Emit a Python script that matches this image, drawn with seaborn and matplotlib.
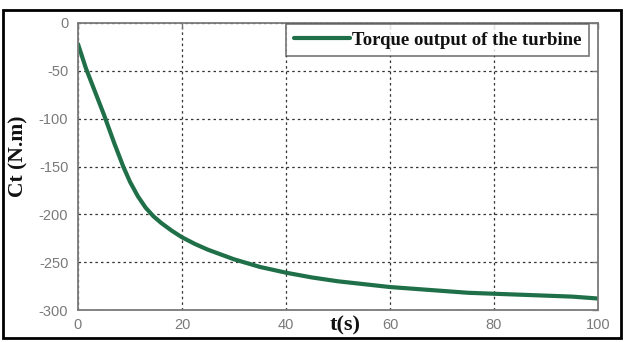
import numpy as np
import pandas as pd
import matplotlib
matplotlib.use("Agg")
import matplotlib.pyplot as plt
import seaborn as sns
from matplotlib.patches import Rectangle

# Data
time_s = [0, 1.5, 3, 5, 7, 8.7, 10, 11.5, 13, 14.5, 16, 18, 20, 22.5, 25, 30, 35, 40,
          45, 50, 55, 60, 65, 70, 75, 80, 85, 90, 95, 100]
torque = [-22, -47, -68, -96, -126, -150, -166, -181, -193, -202, -209, -217, -224, -231,
          -237, -247, -255, -261, -266, -270, -273, -276, -278, -280, -282, -283, -284,
          -285, -286, -288]
series_name = "Torque output of the turbine"
x_ticks = [0, 20, 40, 60, 80, 100]
y_ticks = [0, -50, -100, -150, -200, -250, -300]

df = pd.DataFrame({"t": time_s, "Ct": torque, "series": series_name})

sns.set_style("white")
plt.rcParams['font.family'] = ['Liberation Sans', 'DejaVu Sans']
plt.rcParams['axes.unicode_minus'] = False

W, H = 625, 342
fig = plt.figure(figsize=(W / 100, H / 100), dpi=100)
ax = fig.add_axes([78 / W, 1 - 310 / H, (598 - 78) / W, (310 - 23) / H])

sns.lineplot(data=df, x="t", y="Ct", hue="series", palette=["#1f7048"], linewidth=3.0,
             ax=ax, legend=True)

ax.set_xlim(0, 100)
ax.set_ylim(-300, 0)
ax.set_xticks(x_ticks)
ax.set_yticks(y_ticks)
ax.tick_params(direction="in", length=4, width=1, colors="#777777", labelsize=10.5,
               top=True, right=True, labelcolor="#7a7a7a")
ax.tick_params(axis="y", pad=7)
ax.tick_params(axis="x", pad=6)
for s in ax.spines.values():
    s.set_color("#7a7a7a")
    s.set_linewidth(1.3)
ax.grid(True, color="#333333", linestyle=(0, (2, 2.5)), linewidth=0.9)
ax.set_xlabel("")
ax.set_ylabel("")

leg = ax.legend(loc="upper right", bbox_to_anchor=(589 / W, 1 - 24 / H),
                bbox_transform=fig.transFigure, frameon=True, fancybox=False,
                borderpad=0.4, handlelength=3.0, handletextpad=0.1, borderaxespad=0,
                prop={"family": "Liberation Serif", "weight": "bold", "size": 13.5})
leg.get_frame().set_edgecolor("#555555")
leg.get_frame().set_linewidth(1.2)
for t in leg.get_texts():
    t.set_color("#111111")

fig.text(18 / W, 1 - 156 / H, "Ct (N.m)", rotation=90, ha="center", va="center",
         family="Liberation Serif", weight="bold", size=15.5, color="#111111")
fig.text(345 / W, 1 - 325 / H, "t(s)", ha="center", va="center",
         family="Liberation Serif", weight="bold", size=16, color="#111111")

fig.patches.append(Rectangle((3 / W, 1 - 338 / H), (621 - 3) / W, (338 - 10) / H,
                             transform=fig.transFigure, fill=False, edgecolor="black",
                             linewidth=2))

fig.savefig("out.png", dpi=100)
